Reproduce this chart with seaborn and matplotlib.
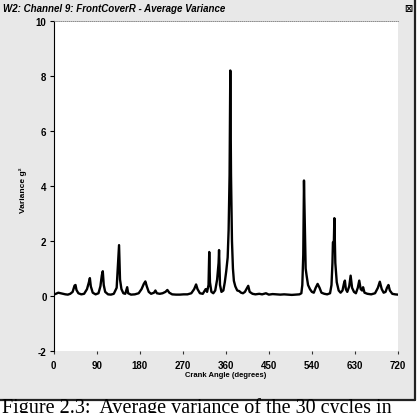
import matplotlib
matplotlib.use('Agg')
import matplotlib.pyplot as plt
from matplotlib.patches import Rectangle
import seaborn as sns
import pandas as pd

# crank angle (degrees) and average variance (g^2)
crank_angle = [0, 5, 10, 15, 20, 25, 30, 35, 40, 44, 46, 48, 52, 58, 64, 70, 74, 76, 78, 82,
               88, 94, 98, 101, 103, 105, 108, 114, 120, 126, 132, 135, 137, 139, 142, 146,
               150, 153, 154, 156, 162, 170, 178, 184, 189, 192, 195, 199, 204, 210, 213, 216,
               222, 228, 234, 238, 242, 248, 256, 264, 272, 280, 288, 294, 298, 301, 306, 312,
               318, 321, 324, 325.5, 327, 330, 334, 338, 342, 345, 346, 348, 351, 355, 358,
               361, 364, 366, 368, 369.5, 371, 373, 375, 377, 380, 384, 388, 392, 396, 400,
               404, 407, 410, 416, 422, 430, 436, 444, 450, 458, 466, 474, 482, 490, 498, 506,
               514, 518, 520, 522, 523.5, 525, 527, 529, 532, 536, 540, 544, 548, 552, 556,
               560, 566, 572, 578, 581, 583, 584, 586, 587, 589, 592, 596, 600, 604, 607, 609,
               611, 614, 618, 621, 624, 628, 632, 636, 639, 642, 645, 647, 650, 656, 664, 672,
               678, 682, 686, 690, 694, 697, 700, 703, 708, 714, 720]
variance = [0.05, 0.08, 0.12, 0.10, 0.08, 0.06, 0.05, 0.08, 0.15, 0.38, 0.40, 0.22, 0.10, 0.06,
            0.08, 0.25, 0.50, 0.65, 0.35, 0.12, 0.06, 0.10, 0.35, 0.75, 0.90, 0.40, 0.15, 0.06,
            0.05, 0.08, 0.30, 1.20, 1.85, 0.60, 0.25, 0.10, 0.08, 0.25, 0.32, 0.10, 0.05, 0.06,
            0.10, 0.25, 0.45, 0.53, 0.35, 0.15, 0.08, 0.12, 0.20, 0.10, 0.08, 0.10, 0.15, 0.22,
            0.12, 0.06, 0.05, 0.05, 0.06, 0.06, 0.10, 0.25, 0.42, 0.25, 0.10, 0.08, 0.25, 0.15,
            0.40, 1.60, 0.50, 0.15, 0.10, 0.20, 0.60, 1.20, 1.67, 0.40, 0.15, 0.20, 0.50, 0.90,
            1.40, 2.40, 4.40, 8.20, 4.40, 2.00, 1.00, 0.55, 0.35, 0.20, 0.18, 0.12, 0.10, 0.15,
            0.28, 0.37, 0.15, 0.08, 0.06, 0.08, 0.06, 0.10, 0.05, 0.07, 0.06, 0.05, 0.06, 0.05,
            0.04, 0.05, 0.06, 0.10, 0.40, 1.50, 4.20, 2.80, 1.00, 0.74, 0.40, 0.25, 0.15, 0.12,
            0.30, 0.44, 0.30, 0.12, 0.08, 0.06, 0.10, 0.40, 1.20, 1.95, 2.00, 2.83, 1.20, 0.50,
            0.20, 0.12, 0.20, 0.45, 0.56, 0.25, 0.15, 0.35, 0.74, 0.30, 0.15, 0.10, 0.30, 0.56,
            0.25, 0.20, 0.32, 0.12, 0.08, 0.06, 0.10, 0.30, 0.52, 0.25, 0.12, 0.15, 0.30, 0.40,
            0.20, 0.08, 0.06, 0.05]

x_ticks = [0, 90, 180, 270, 360, 450, 540, 630, 720]
y_ticks = [-2, 0, 2, 4, 6, 8, 10]

df = pd.DataFrame({'angle': crank_angle, 'var': variance})

sns.set_theme(style='white')
plt.rcParams['font.family'] = ['Liberation Sans', 'DejaVu Sans']
plt.rcParams['text.color'] = 'black'

fig = plt.figure(figsize=(4.2, 4.14), dpi=100)
fig.patch.set_facecolor('white')

# grey window area above the caption
fig.patches.append(Rectangle((0, 13 / 414), 415 / 420, 1, transform=fig.transFigure,
                             facecolor='#e8e8e8', edgecolor='none', zorder=-5))
# window frame (right and bottom edges)
fig.add_artist(plt.Line2D([415 / 420, 415 / 420], [13 / 414, 1], transform=fig.transFigure,
                          color='#222222', lw=1.6))
fig.add_artist(plt.Line2D([0, 415 / 420], [13 / 414, 13 / 414], transform=fig.transFigure,
                          color='#222222', lw=1.6))

ax = fig.add_axes([53.5 / 420, 1 - 352 / 414, (398 - 53.5) / 420, 330 / 414])
ax.set_facecolor('white')
sns.lineplot(data=df, x='angle', y='var', color='black', lw=1.7, ax=ax)

ax.set_xlim(0, 720)
ax.set_ylim(-2, 10)
ax.set_xticks(x_ticks)
ax.set_yticks(y_ticks)
ax.set_xticklabels([str(t) for t in x_ticks], fontsize=7, fontweight='bold', color='black')
ax.set_yticklabels([str(t) for t in y_ticks], fontsize=7, fontweight='bold', color='black')
ax.tick_params(axis='y', direction='out', length=3, width=0.8, color='black', pad=2, left=True)
ax.tick_params(axis='x', direction='out', length=2.5, width=0.8, color='#333333', pad=4, bottom=True)

for side in ['right', 'bottom']:
    ax.spines[side].set_visible(False)
ax.spines['left'].set_color('black')
ax.spines['left'].set_linewidth(0.8)
ax.spines['top'].set_color('#777777')
ax.spines['top'].set_linestyle((0, (1, 1.5)))
ax.spines['top'].set_linewidth(0.6)

ax.set_xlabel('')
ax.set_ylabel('')
fig.text(226 / 420, 1 - 376 / 414, 'Crank Angle (degrees)', fontsize=5.5, fontweight='bold',
         ha='center', va='center')
fig.text(23 / 420, 1 - 190 / 414, 'Variance g²', fontsize=6, fontweight='bold',
         rotation=90, ha='center', va='center')
fig.text(3 / 420, 1 - 9.5 / 414, 'W2: Channel 9: FrontCoverR - Average Variance', fontsize=7,
         fontweight='bold', fontstyle='italic', ha='left', va='center')
fig.text(408 / 420, 1 - 9 / 414, '⊠', fontsize=7, fontweight='bold', ha='center', va='center',
         family=['DejaVu Sans'])

# figure caption, cut at the page edge as in the scan
fig.text(2 / 420, 0.5 / 414, 'Figure 2.3:  Average variance of the 30 cycles in', fontsize=14.5,
         ha='left', va='baseline', family=['Liberation Serif', 'DejaVu Serif'])

fig.savefig('out.png', dpi=100)
